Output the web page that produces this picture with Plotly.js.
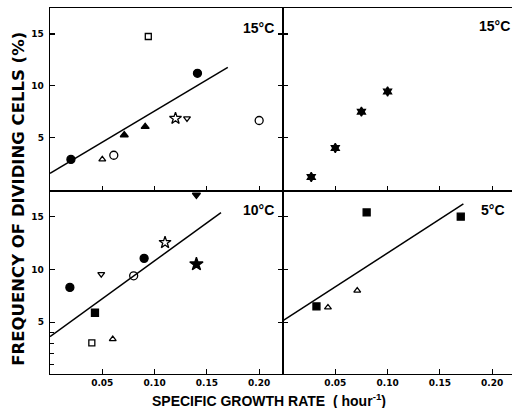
<!DOCTYPE html>
<html>
<head>
<meta charset="utf-8">
<script src="https://cdn.plot.ly/plotly-3.0.1.min.js"></script>
<style>html,body{margin:0;padding:0;background:#fff}#chart{width:512px;height:408px}</style>
</head>
<body>
<div id="chart"></div>
<script>
// ---- Data ----
// Panel: 15°C (top-left)
const p15a_x   = [0.020, 0.050, 0.061, 0.071, 0.091, 0.094, 0.120, 0.131, 0.141, 0.200];
const p15a_y   = [2.9,   2.9,   3.3,   5.25,  6.05,  14.75, 6.85,  6.85,  11.2,  6.65];
const p15a_set = ['A',   'B',   'C',   'D',   'D',   'E',   'F',   'G',   'A',   'C'];
const fit15a_x = [0.0, 0.170];
const fit15a_y = [1.56, 11.77];

// Panel: 15°C (top-right)
const p15b_x   = [0.027, 0.050, 0.075, 0.100];
const p15b_y   = [1.2,   4.0,   7.5,   9.45];
const p15b_set = ['K',   'K',   'K',   'K'];

// Panel: 10°C (bottom-left)
const p10_x   = [0.140, 0.110, 0.140, 0.090, 0.080, 0.049, 0.019, 0.043, 0.040, 0.060];
const p10_y   = [17.05, 12.55, 10.5,  11.05, 9.4,   9.55,  8.3,   5.9,   3.05,  3.4];
const p10_set = ['H',   'F',   'I',   'A',   'C',   'G',   'A',   'J',   'E',   'B'];
const fit10_x = [0.0, 0.1635];
const fit10_y = [3.64, 15.38];

// Panel: 5°C (bottom-right)
const p5_x   = [0.080, 0.170, 0.032, 0.043, 0.071];
const p5_y   = [15.4,  15.0,  6.5,   6.4,   8.0];
const p5_set = ['J',   'J',   'J',   'B',   'B'];
const fit5_x = [0.0, 0.1725];
const fit5_y = [5.15, 16.2];

const xTickVals = [0.05, 0.10, 0.15, 0.20];
const xTickText = ['0.05', '0.10', '0.15', '0.20'];
const yTickVals = [5, 10, 15];
const yTickText = ['5', '10', '15'];
const yMinorVals = [1, 2, 3, 4];
const panelLabels = ['15°C', '15°C', '10°C', '5°C'];

// ---- Styles ----
const INK = '#000';
const SYMBOLS = {
  A: {symbol: 'circle', size: 8},
  B: {symbol: 'triangle-up-open', size: 6},
  C: {symbol: 'circle-open', size: 8},
  D: {symbol: 'triangle-up', size: 7},
  E: {symbol: 'square-open', size: 6},
  F: {symbol: 'star-open', size: 9},
  G: {symbol: 'triangle-down-open', size: 6},
  H: {symbol: 'triangle-down', size: 7},
  I: {symbol: 'star', size: 10},
  J: {symbol: 'square', size: 7},
  K: {symbol: 'hexagram', size: 7}
};

function pointTrace(xs, ys, sets, xa, ya) {
  return {
    x: xs, y: ys, xaxis: xa, yaxis: ya, type: 'scatter', mode: 'markers',
    cliponaxis: false, hoverinfo: 'skip',
    marker: {
      symbol: sets.map(s => SYMBOLS[s].symbol),
      size: sets.map(s => SYMBOLS[s].size),
      color: INK, opacity: 1, line: {color: INK, width: 1.3}
    }
  };
}
function lineTrace(xs, ys, xa, ya) {
  return {x: xs, y: ys, xaxis: xa, yaxis: ya, type: 'scatter', mode: 'lines',
          hoverinfo: 'skip', line: {color: INK, width: 1.5}};
}

const traces = [
  lineTrace(fit15a_x, fit15a_y, 'x', 'y'),
  pointTrace(p15a_x, p15a_y, p15a_set, 'x', 'y'),
  pointTrace(p15b_x, p15b_y, p15b_set, 'x2', 'y2'),
  lineTrace(fit10_x, fit10_y, 'x3', 'y3'),
  pointTrace(p10_x, p10_y, p10_set, 'x3', 'y3'),
  lineTrace(fit5_x, fit5_y, 'x4', 'y4'),
  pointTrace(p5_x, p5_y, p5_set, 'x4', 'y4'),
  {x: [], y: [], xaxis: 'x3', yaxis: 'y5', type: 'scatter', mode: 'markers', showlegend: false}
];

const tickFont = {family: 'DejaVu Sans, sans-serif', size: 9, color: INK, weight: 'bold'};
const splitX = 233 / 462;

function xa(domain, anchor, labels, range) {
  return {domain: domain, anchor: anchor, range: range, showgrid: false, zeroline: false,
          showline: true, linecolor: INK, linewidth: 1.3, mirror: true,
          ticks: 'inside', ticklen: 5, tickwidth: 1.2, tickcolor: INK,
          tickvals: xTickVals, ticktext: xTickText, showticklabels: labels,
          tickfont: tickFont, fixedrange: true};
}
function ya(domain, anchor, labels, range, mirror) {
  return {domain: domain, anchor: anchor, range: range, showgrid: false, zeroline: false,
          showline: true, linecolor: INK, linewidth: 1.3, mirror: mirror,
          ticks: 'inside', ticklen: 5, tickwidth: 1.2, tickcolor: INK,
          tickvals: yTickVals, ticktext: yTickText, showticklabels: labels,
          tickfont: tickFont, ticklabelstandoff: 3, fixedrange: true};
}

const titleFontY = {family: 'DejaVu Sans, sans-serif', size: 16.5, color: INK, weight: 'bold'};
const titleFontX = {family: 'Liberation Sans Narrow, Liberation Sans, sans-serif', size: 14, color: INK, weight: 'bold'};
const labelFont = {family: 'Liberation Sans, Arial, sans-serif', size: 14, color: INK, weight: 'bold'};

const layout = {
  width: 512, height: 408,
  margin: {l: 50, r: 0, t: 8, b: 34},
  paper_bgcolor: '#fff', plot_bgcolor: '#fff',
  showlegend: false,
  xaxis:  xa([0, splitX], 'y',  false, [0, 0.2228]),
  yaxis:  ya([0.5, 1], 'x',  true, [-0.15, 17.5], 'ticks'),
  xaxis2: xa([splitX, 1], 'y2', false, [0, 0.219]),
  yaxis2: ya([0.5, 1], 'x2', false, [-0.15, 17.5], false),
  xaxis3: xa([0, splitX], 'y3', true, [0, 0.2228]),
  yaxis3: ya([0, 0.5], 'x3', true, [0.1, 17.43], 'ticks'),
  xaxis4: xa([splitX, 1], 'y4', true, [0, 0.219]),
  yaxis4: ya([0, 0.5], 'x4', false, [0.1, 17.43], false),
  yaxis5: {overlaying: 'y3', anchor: 'x3', range: [0.1, 17.43], showgrid: false, zeroline: false,
           showline: false, ticks: 'inside', ticklen: 4, tickwidth: 1, tickcolor: INK,
           tickvals: yMinorVals, showticklabels: false, fixedrange: true},
  annotations: [
    {text: panelLabels[0], xref: 'paper', yref: 'paper', x: 0.451, y: 0.946, showarrow: false, font: labelFont, xanchor: 'center', yanchor: 'middle'},
    {text: panelLabels[1], xref: 'paper', yref: 'paper', x: 0.962, y: 0.951, showarrow: false, font: labelFont, xanchor: 'center', yanchor: 'middle'},
    {text: panelLabels[2], xref: 'paper', yref: 'paper', x: 0.451, y: 0.448, showarrow: false, font: labelFont, xanchor: 'center', yanchor: 'middle'},
    {text: panelLabels[3], xref: 'paper', yref: 'paper', x: 0.958, y: 0.448, showarrow: false, font: labelFont, xanchor: 'center', yanchor: 'middle'},
    {text: 'FREQUENCY OF DIVIDING CELLS (%)', xref: 'paper', yref: 'paper', x: -0.070, y: 0.478,
     xanchor: 'center', yanchor: 'middle', textangle: -90, showarrow: false, font: titleFontY},
    {text: 'SPECIFIC GROWTH RATE  ( hour<sup>-1</sup>)', xref: 'paper', yref: 'paper', x: 0.474, y: -0.072,
     xanchor: 'center', yanchor: 'middle', showarrow: false, font: titleFontX}
  ]
};

Plotly.newPlot('chart', traces, layout, {staticPlot: true, displayModeBar: false});
</script>
</body>
</html>
